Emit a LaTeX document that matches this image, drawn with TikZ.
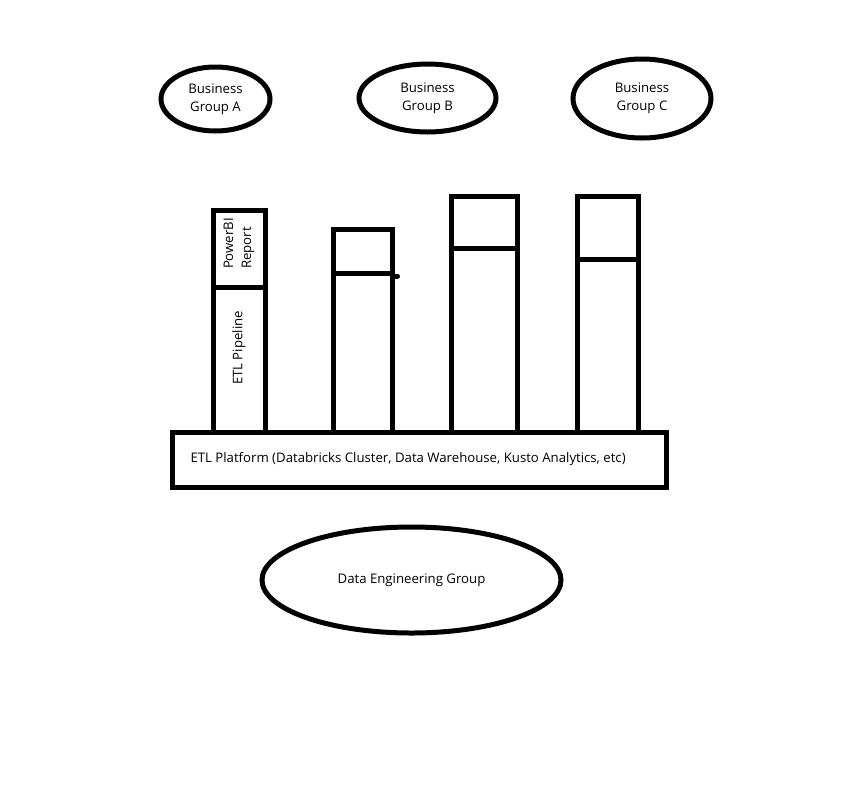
\documentclass[tikz,border=0pt]{standalone}
\usepackage{fontspec}
\setmainfont{Open Sans}
\usetikzlibrary{shapes.geometric}
\begin{document}
\begin{tikzpicture}[x=1pt,y=-1pt,line width=5pt,
  txt/.style={font=\fontsize{13.2}{18}\selectfont},
  grp/.style={draw,ellipse,inner sep=0pt,align=center,txt},
  box/.style={draw,rectangle,inner sep=0pt},
  vlbl/.style={txt,rotate=90,align=left,inner sep=0pt}]
\useasboundingbox (0,0) rectangle (843,788);
\fill[white] (0,0) rectangle (843,788);
% business groups
\node[grp,minimum width=109,minimum height=64] (ga) at (215.5,99) {Business\\Group A};
\node[grp,minimum width=137,minimum height=68] (gb) at (427.5,98) {Business\\Group B};
\node[grp,minimum width=138,minimum height=79] (gc) at (642,98.5) {Business\\Group C};
% columns
\node[box,minimum width=52.5,minimum height=145.5] (ab) at (239.25,359.75) {};
\node[box,minimum width=52.5,minimum height=76.5] (at) at (239.25,248.75) {};
\node[box,minimum width=59,minimum height=159] (bb) at (362.5,353) {};
\node[box,minimum width=59,minimum height=44] (bt) at (362.5,251.5) {};
\node[box,minimum width=66,minimum height=184] (cb) at (484,340.5) {};
\node[box,minimum width=66,minimum height=52.5] (ct) at (484,222.25) {};
\node[box,minimum width=61,minimum height=173] (db) at (607.5,346) {};
\node[box,minimum width=61,minimum height=63.5] (dt) at (607.5,227.75) {};
\draw[line cap=round] (bt.south east) -- ++(3,0);
\node[vlbl] (pbi) at (239,243.5) {PowerBI\\Report};
\node[vlbl] (etl) at (239,348) {ETL Pipeline};
% platform
\node[box,minimum width=494,minimum height=55] (plat) at (419.5,460) {};
\node[txt,anchor=west,inner sep=0pt] (plattxt) at (188,459) {ETL Platform (Databricks Cluster, Data Warehouse, Kusto Analytics, etc)};
% data engineering
\node[grp,minimum width=299,minimum height=106] (deg) at (411.5,580) {Data Engineering Group};
\end{tikzpicture}
\end{document}
